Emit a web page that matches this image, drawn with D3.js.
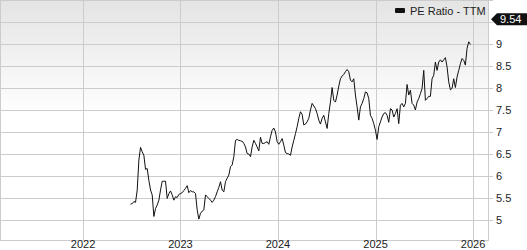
<!DOCTYPE html>
<html>
<head>
<meta charset="utf-8">
<script src="https://cdn.jsdelivr.net/npm/d3@7"></script>
<style>
	body { margin: 0; background: #fff; }
	svg { display: block; font-family: "Liberation Sans", Arial, sans-serif; }
	.grid line { stroke: #cccccc; shape-rendering: crispEdges; }
	.axis text { fill: #222; font-size: 11px; }
</style>
</head>
<body>
<svg width="527" height="250"></svg>
<script>
'use strict';

// weekly-ish PE ratio readings, Jun 2022 .. Dec 2025
const startDate = new Date(2022, 5, 28);
const endDate = new Date(2025, 11, 22);
const peValues = [
	5.36, 5.37, 5.42, 5.40, 5.68, 6.36, 6.65, 6.55, 6.47, 6.15, 6.17, 5.90, 5.68, 5.57, 5.08, 5.26,
	5.34, 5.45, 5.68, 5.88, 5.88, 5.88, 5.49, 5.60, 5.66, 5.57, 5.45, 5.53, 5.51, 5.58, 5.60, 5.62,
	5.67, 5.72, 5.78, 5.62, 5.67, 5.64, 5.64, 5.60, 5.23, 5.02, 5.15, 5.20, 5.23, 5.57, 5.53, 5.49,
	5.45, 5.40, 5.45, 5.53, 5.64, 5.74, 5.87, 5.68, 5.64, 5.87, 5.95, 6.02, 6.21, 6.25, 6.44, 6.81,
	6.83, 6.81, 6.80, 6.79, 6.74, 6.66, 6.51, 6.50, 6.44, 6.66, 6.81, 6.74, 6.66, 6.57, 6.88, 6.74,
	6.74, 6.76, 6.78, 6.72, 6.89, 7.04, 7.09, 7.00, 6.78, 6.72, 6.78, 6.85, 6.70, 6.53, 6.51, 6.50,
	6.47, 6.66, 6.81, 6.96, 7.12, 7.31, 7.46, 7.40, 7.16, 7.18, 7.23, 7.31, 7.50, 7.65, 7.59, 7.53,
	7.42, 7.27, 7.18, 7.31, 7.38, 7.23, 7.08, 7.42, 7.68, 8.01, 7.72, 7.68, 7.84, 8.04, 8.21, 8.27,
	8.31, 8.37, 8.42, 8.37, 8.18, 8.14, 8.21, 7.84, 7.57, 7.27, 7.57, 7.65, 7.76, 7.91, 7.89, 7.76,
	7.38, 7.31, 7.19, 7.04, 6.83, 7.12, 7.23, 7.34, 7.42, 7.44, 7.38, 7.22, 7.53, 7.50, 7.34, 7.42,
	7.53, 7.19, 7.61, 7.65, 7.57, 7.65, 8.08, 7.84, 7.95, 7.65, 7.61, 7.50, 7.68, 7.76, 7.87, 7.99,
	8.40, 7.72, 7.76, 7.81, 7.81, 8.21, 8.29, 8.59, 8.40, 8.59, 8.64, 8.59, 8.64, 8.69, 8.48, 8.14,
	7.96, 7.99, 8.21, 8.01, 8.25, 8.40, 8.55, 8.67, 8.63, 8.52, 8.90, 9.05, 8.99
];
const yTicks = [5, 5.5, 6, 6.5, 7, 7.5, 8, 8.5, 9, 9.5, 10];
const yLabels = [5, 5.5, 6, 6.5, 7, 7.5, 8, 8.5, 9];
const xTickYears = [2022, 2023, 2024, 2025, 2026];
const lastLabel = "9.54";
const seriesName = "PE Ratio - TTM";

const svg = d3.select("svg");
const plotW = 488, plotH = 240;

const step = (endDate - startDate) / (peValues.length - 1);
const data = peValues.map((v, i) => ({date: new Date(+startDate + i * step), value: v}));

const x = d3.scaleTime()
	.domain([new Date(2021, 1, 24), new Date(2026, 1, 26)])
	.range([0, plotW]);
const y = d3.scaleLinear()
	.domain([4.545, 10])
	.range([plotH, 0]);

// background gradient
const defs = svg.append("defs");
const grad = defs.append("linearGradient")
	.attr("id", "bg").attr("x1", 0).attr("y1", 0).attr("x2", 0).attr("y2", 1);
grad.append("stop").attr("offset", "0%").attr("stop-color", "#e4e4e4");
grad.append("stop").attr("offset", "48%").attr("stop-color", "#ffffff");
grad.append("stop").attr("offset", "100%").attr("stop-color", "#ffffff");

svg.append("rect")
	.attr("x", 0).attr("y", 0)
	.attr("width", plotW).attr("height", plotH)
	.attr("fill", "url(#bg)");

// grid
const grid = svg.append("g").attr("class", "grid");
grid.selectAll(".h").data(yTicks).enter().append("line")
	.attr("x1", 0).attr("x2", plotW + 5)
	.attr("y1", d => Math.round(y(d)) + 0.5)
	.attr("y2", d => Math.round(y(d)) + 0.5);
grid.selectAll(".v").data(xTickYears).enter().append("line")
	.attr("x1", d => Math.round(x(new Date(d, 0, 1))) + 0.5)
	.attr("x2", d => Math.round(x(new Date(d, 0, 1))) + 0.5)
	.attr("y1", 0).attr("y2", plotH);

// frame
svg.append("rect")
	.attr("x", 0.5).attr("y", 0.5)
	.attr("width", plotW - 0.5).attr("height", plotH - 0.5)
	.attr("fill", "none").attr("stroke", "#cccccc")
	.attr("shape-rendering", "crispEdges");

// axes labels
const axis = svg.append("g").attr("class", "axis");
axis.selectAll(".yl").data(yLabels).enter().append("text")
	.attr("x", plotW + 8)
	.attr("y", d => y(d) + 4)
	.text(d => d);
axis.selectAll(".xl").data(xTickYears).enter().append("text")
	.attr("x", d => x(new Date(d, 0, 1)))
	.attr("y", 248)
	.attr("text-anchor", "middle")
	.text(d => d);

// line
const line = d3.line()
	.x(d => x(d.date))
	.y(d => y(d.value));
svg.append("path")
	.datum(data)
	.attr("fill", "none")
	.attr("stroke", "#111")
	.attr("stroke-width", 1)
	.attr("stroke-linejoin", "round")
	.attr("d", line);

// last value flag
const fy = y(+lastLabel) - 1;
const flag = svg.append("g").attr("transform", `translate(${plotW},${fy})`);
flag.append("path")
	.attr("d", "M3,0 L9,-6 L39,-6 L39,6 L9,6 Z")
	.attr("fill", "#111");
flag.append("text")
	.attr("x", 12).attr("y", 4)
	.attr("fill", "#fff")
	.attr("font-size", "11px")
	.text(lastLabel);

// legend
const legend = svg.append("g").attr("transform", "translate(395,11)");
legend.append("rect")
	.attr("x", 0).attr("y", -3).attr("width", 10).attr("height", 5)
	.attr("rx", 1)
	.attr("fill", "#111");
legend.append("text")
	.attr("x", 15).attr("y", 4)
	.attr("font-size", "11px")
	.attr("fill", "#222")
	.text(seriesName);
</script>
</body>
</html>
